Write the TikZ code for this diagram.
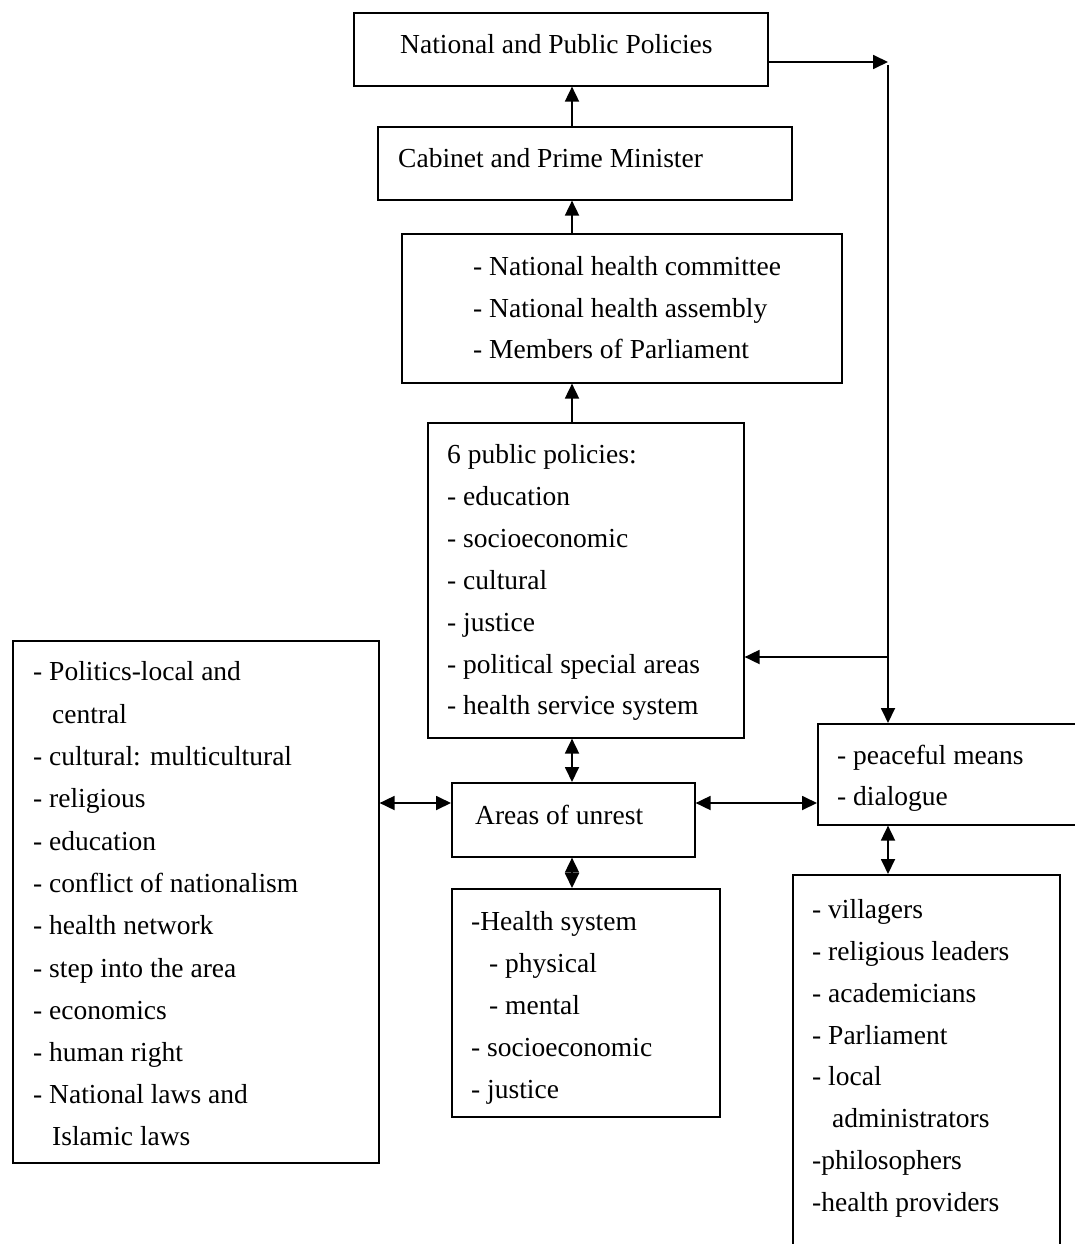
\documentclass[tikz,border=0pt]{standalone}
\usepackage{fontspec}
\setmainfont{Liberation Serif}
\usetikzlibrary{arrows.meta}
\begin{document}
\begin{tikzpicture}[x=1pt,y=-1pt,
  box/.style={draw, line width=1.6pt, rectangle, anchor=north west, inner sep=0pt},
  txt/.style={anchor=base west, inner sep=0pt, font=\fontsize{27.5}{33}\selectfont},
  conn/.style={line width=1.8pt, -{Triangle[length=15pt,width=14pt]}},
  both/.style={line width=1.8pt, {Triangle[length=15pt,width=14pt]}-{Triangle[length=15pt,width=14pt]}}]
\useasboundingbox[fill=white] (0,0) rectangle (1075,1244);
\clip (0,0) rectangle (1075,1244);

% boxes
\node[box, minimum width=414pt, minimum height=73pt] (b1) at (353,12) {};
\node[box, minimum width=414pt, minimum height=73pt] (b2) at (377,126) {};
\node[box, minimum width=440pt, minimum height=149pt] (b3) at (401,233) {};
\node[box, minimum width=316pt, minimum height=315pt] (b4) at (427,422) {};
\node[box, minimum width=243pt, minimum height=74pt] (ar) at (451,782) {};
\node[box, minimum width=268pt, minimum height=228pt] (hs) at (451,888) {};
\node[box, minimum width=366pt, minimum height=522pt] (lb) at (12,640) {};
\node[box, minimum width=280pt, minimum height=101pt] (pm) at (817,723) {};
\node[box, minimum width=267pt, minimum height=400pt] (rb) at (792,874) {};

% texts
\node[txt] (t1) at (400,54) {National and Public Policies};
\node[txt] (t2) at (398,167) {Cabinet and Prime Minister};

\node[txt] (t3a) at (473,275) {- National health committee};
\node[txt] (t3b) at (473,317) {- National health assembly};
\node[txt] (t3c) at (473,358) {- Members of Parliament};

\node[txt] (t4a) at (447,463) {6 public policies:};
\node[txt] (t4b) at (447,505) {- education};
\node[txt] (t4c) at (447,547) {- socioeconomic};
\node[txt] (t4d) at (447,589) {- cultural};
\node[txt] (t4e) at (447,631) {- justice};
\node[txt] (t4f) at (447,673) {- political special areas};
\node[txt] (t4g) at (447,714) {- health service system};

\node[txt] (t5) at (475,824) {Areas of unrest};

\node[txt] (t6a) at (471,930) {-Health system};
\node[txt] (t6b) at (489,972) {- physical};
\node[txt] (t6c) at (489,1014) {- mental};
\node[txt] (t6d) at (471,1056) {- socioeconomic};
\node[txt] (t6e) at (471,1098) {- justice};

\node[txt] (t7a) at (33,680) {- Politics-local and};
\node[txt] (t7b) at (52,723) {central};
\node[txt] (t7c) at (33,765) {- cultural: multicultural};
\node[txt] (t7d) at (33,807) {- religious};
\node[txt] (t7e) at (33,850) {- education};
\node[txt] (t7f) at (33,892) {- conflict of nationalism};
\node[txt] (t7g) at (33,934) {- health network};
\node[txt] (t7h) at (33,977) {- step into the area};
\node[txt] (t7i) at (33,1019) {- economics};
\node[txt] (t7j) at (33,1061) {- human right};
\node[txt] (t7k) at (33,1103) {- National laws and};
\node[txt] (t7l) at (52,1145) {Islamic laws};

\node[txt] (t8a) at (837,764) {- peaceful means};
\node[txt] (t8b) at (837,805) {- dialogue};

\node[txt] (t9a) at (812,918) {- villagers};
\node[txt] (t9b) at (812,960) {- religious leaders};
\node[txt] (t9c) at (812,1002) {- academicians};
\node[txt] (t9d) at (812,1044) {- Parliament};
\node[txt] (t9e) at (812,1085) {- local};
\node[txt] (t9f) at (832,1127) {administrators};
\node[txt] (t9g) at (812,1169) {-philosophers};
\node[txt] (t9h) at (812,1211) {-health providers};

% helper coordinates
\coordinate (ax) at (572,0);
\coordinate (rx) at (888,0);
\coordinate (ry) at (0,62);
\coordinate (rtop) at (888,65);
\coordinate (br) at (888,657);
\coordinate (my) at (0,803);

% connectors
\draw[conn] (b2.north -| ax) -- (b1.south -| ax);
\draw[conn] (b3.north -| ax) -- (b2.south -| ax);
\draw[conn] (b4.north -| ax) -- (b3.south -| ax);
\draw[both] (b4.south -| ax) -- (ar.north -| ax);
\draw[both] (ar.south -| ax) -- (hs.north -| ax);
\draw[both] (lb.east |- my) -- (ar.west |- my);
\draw[both] (ar.east |- my) -- (pm.west |- my);
\draw[both] (pm.south -| rx) -- (rb.north -| rx);
\draw[conn] (b1.east |- ry) -- (rx |- ry);
\draw[conn] (rtop) -- (pm.north -| rx);
\draw[conn] (br) -- (b4.east |- br);
\end{tikzpicture}
\end{document}
